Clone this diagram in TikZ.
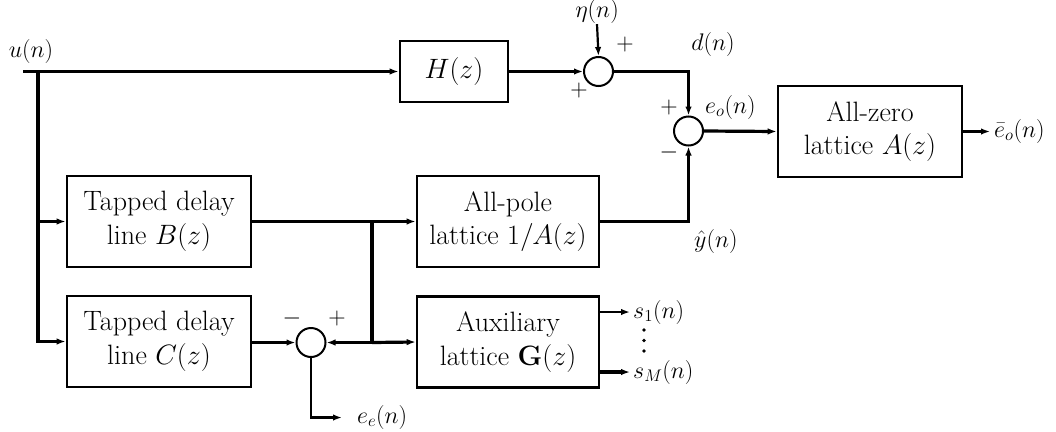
\documentclass[tikz,border=0pt]{standalone}
\usepackage{fix-cm}
\usepackage{amsmath}
\usetikzlibrary{arrows.meta}
\begin{document}
\begin{tikzpicture}[x=1pt,y=-1pt,
  blk/.style={draw,line width=2.6pt,minimum width=184pt,minimum height=91pt,align=center,inner sep=0pt,
    font=\fontsize{28}{33.6}\selectfont},
  sumc/.style={draw,circle,line width=2pt,minimum size=29pt,inner sep=0pt},
  lbl/.style={inner sep=0pt,font=\fontsize{24}{28}\selectfont},
  thin/.style={line width=2.2pt},
  thk/.style={line width=3.2pt},
  arr/.style={-{Latex[length=9pt,width=6.5pt]}},
  dotc/.style={fill,circle,minimum size=3.8pt,inner sep=0pt},
]
\useasboundingbox (0,0) rectangle (1056,431);
% blocks
\node[blk,minimum width=108pt,minimum height=61pt] (H) at (454,71.5) {$H(z)$};
\node[blk] (B) at (159,221.5) {Tapped delay\\line $B(z)$};
\node[blk] (C) at (159,341.5) {Tapped delay\\line $C(z)$};
\node[blk,minimum width=182pt] (AP) at (508,221.5) {All-pole\\lattice $1/A(z)$};
\node[blk,minimum width=182pt] (AX) at (508,342) {Auxiliary\\lattice $\mathbf{G}(z)$};
\node[blk] (AZ) at (870,131.5) {All-zero\\lattice $A(z)$};
% summing junctions
\node[sumc] (S1) at (598.5,71.5) {};
\node[sumc] (S2) at (688.5,131) {};
\node[sumc] (S3) at (311,342.5) {};
% coordinates
\coordinate (u0) at (23,71.5);
\coordinate (sp) at (38,71.5);
\coordinate (j1) at (372,221.5);
\coordinate (j2) at (372,342.5);
\coordinate (ee) at (342,417.5);
\coordinate (out) at (990,131.5);
\coordinate (s1e) at (630,312);
\coordinate (sMe) at (630,372);
% labels
\node[lbl] (ul) at (31,52) {$u(n)$};
\node[lbl] (eta) at (597,12) {$\eta(n)$};
\node[lbl] (p1) at (625,45) {$+$};
\node[lbl] (p2) at (579,90) {$+$};
\node[lbl] (dl) at (713,45) {$d(n)$};
\node[lbl] (p3) at (669,107) {$+$};
\node[lbl] (m1) at (669,152) {$-$};
\node[lbl,anchor=west] (eol) at (705,107) {$e_o(n)$};
\node[lbl,anchor=west] (yl) at (694,241) {$\hat{y}(n)$};
\node[lbl] (m2) at (292,318) {$-$};
\node[lbl] (p4) at (337,318) {$+$};
\node[lbl,anchor=west] (eel) at (357,417) {$e_e(n)$};
\node[lbl,anchor=west] (outl) at (994,131) {$\bar{e}_o(n)$};
\node[lbl,anchor=west] (s1l) at (633,312) {$s_1(n)$};
\node[lbl,anchor=west] (sMl) at (633,372) {$s_M(n)$};
\node[dotc] (d1) at (644,330) {};
\node[dotc] (d2) at (644,340.5) {};
\node[dotc] (d3) at (644,351) {};
% connectors
\draw[thin,arr] (u0) -- (H.west);
\draw[thk,arr] (sp) |- (C.west);
\draw[thk,arr] (sp |- B.west) -- (B.west);
\draw[thin,arr] (H.east) -- (S1.west);
\draw[thin,arr] (eta.south) -- (S1.north);
\draw[thin,arr] (S1.east) -| (S2.north);
\draw[thin,arr] (AP.east) -| (S2.south);
\draw[thk,arr] (S2.east) -- (AZ.west);
\draw[thk,arr] (AZ.east) -- (out);
\draw[thk,arr] (B.east) -- (AP.west);
\draw[thk] (j1) -- (j2);
\draw[thk,arr] (j2) -- (AX.west);
\draw[thk,arr] (j2) -- (S3.east);
\draw[thk,arr] (C.east |- S3.west) -- (S3.west);
\draw[thin,arr] (S3.south) |- (ee);
\draw[thin,arr] (AX.east |- s1e) -- (s1e);
\draw[thk,arr] (AX.east |- sMe) -- (sMe);
\end{tikzpicture}
\end{document}
